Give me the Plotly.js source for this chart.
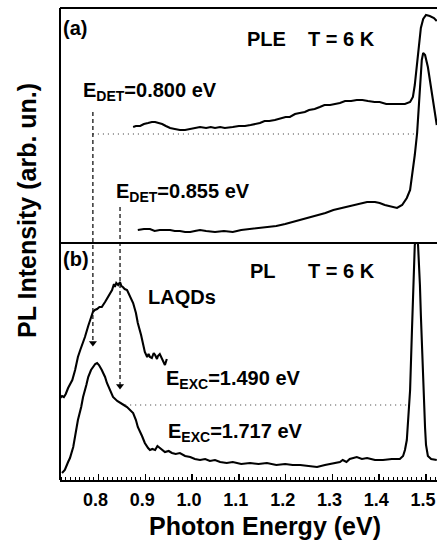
<!DOCTYPE html>
<html>
<head>
<meta charset="utf-8">
<script src="https://cdn.plot.ly/plotly-3.0.1.min.js"></script>
<style>
html,body{margin:0;padding:0;background:#fff;overflow:hidden;}
#chart{width:437px;height:548px;}
</style>
</head>
<body>
<div id="chart"></div>
<script>
// ---------- data (photon energy in eV, intensity in arb. units) ----------
// (a) PLE, detection at 0.800 eV
const pleDet800E = [0.874,0.880,0.889,0.897,0.906,0.914,0.921,0.928,0.936,0.944,0.953,0.963,0.974,0.985,0.996,1.006,1.017,1.030,1.040,1.049,1.060,1.070,1.080,1.087,1.100,1.113,1.125,1.135,1.145,1.155,1.165,1.177,1.190,1.200,1.209,1.220,1.230,1.241,1.250,1.262,1.273,1.283,1.295,1.305,1.316,1.327,1.340,1.352,1.364,1.376,1.390,1.401,1.415,1.429,1.445,1.455,1.466,1.472,1.476,1.481,1.485,1.489,1.494,1.500,1.508,1.517,1.523];
const pleDet800I = [116,117,117,119,120,121,121,120,119,117,115,114,113,113,114,115,116,115,116,115,116,115,116,116,117,117,118,119,120,122,122,123,125,126,126,129,130,131,133,134,136,138,138,139,140,142,142,143,143,142,141,141,139,139,139,139,141,146,158,178,198,215,224,228,227,225,222];
// (a) PLE, detection at 0.855 eV
const pleDet855E = [0.884,0.897,0.910,0.920,0.931,0.942,0.953,0.963,0.974,0.985,0.996,1.006,1.017,1.030,1.049,1.068,1.087,1.105,1.124,1.142,1.160,1.180,1.199,1.215,1.231,1.249,1.267,1.285,1.302,1.320,1.338,1.356,1.374,1.391,1.401,1.412,1.423,1.438,1.449,1.459,1.466,1.470,1.476,1.481,1.485,1.487,1.491,1.494,1.498,1.504,1.508,1.515,1.519,1.523];
const pleDet855I = [13,14,14,12,13,13,13,12,12,11,11,12,13,12,11,12,11,13,14,15,16,17,19,21,23,25,28,30,33,35,37,39,41,41,40,38,37,35,38,45,53,66,88,110,143,160,183,190,188,176,163,143,128,118];
// (b) PL, excitation at 1.490 eV (LAQDs)
const plExc1490E = [0.718,0.722,0.726,0.730,0.735,0.740,0.744,0.750,0.756,0.761,0.765,0.771,0.778,0.782,0.788,0.792,0.797,0.802,0.807,0.814,0.820,0.825,0.829,0.833,0.835,0.838,0.842,0.846,0.849,0.852,0.856,0.861,0.867,0.874,0.880,0.884,0.891,0.895,0.899,0.904,0.907,0.910,0.914,0.918,0.921,0.925,0.927,0.931,0.934,0.938,0.942,0.946];
const plExc1490I = [82,84,83,86,92,96,100,110,123,130,135,143,154,160,168,170,171,173,173,178,183,188,190,196,193,197,195,198,194,193,191,190,184,177,167,157,145,137,128,123,126,123,122,127,125,121,124,126,123,118,115,121];
// (b) PL, excitation at 1.717 eV
const plExc1717E = [0.722,0.728,0.735,0.739,0.746,0.752,0.756,0.763,0.767,0.774,
  0.778,0.784,0.788,0.793,0.797,0.801,0.807,0.814,0.818,0.825,
  0.831,0.840,0.846,0.854,0.861,0.867,0.874,0.880,0.884,0.893,
  0.899,0.906,0.910,0.915,0.921,0.926,0.931,0.936,0.942,0.950,
  0.957,0.965,0.974,0.985,0.996,1.006,1.017,1.028,1.038,1.049,
  1.060,1.074,1.087,1.105,1.124,1.142,1.160,1.180,1.199,1.215,
  1.231,1.249,1.267,1.284,1.301,1.316,1.322,1.330,1.337,1.345,
  1.352,1.363,1.374,1.391,1.408,1.427,1.444,1.451,1.455,1.459,
  1.461,1.466,1.470,1.472,1.474,1.476,1.478,1.481,1.483,1.485,
  1.487,1.489,1.491,1.493,1.496,1.498,1.500,1.504,1.511,1.523];
const plExc1717I = [7,10,18,22,33,48,60,73,83,95,
  103,110,113,116,117,115,110,103,97,90,
  83,79,77,75,73,70,67,60,53,44,
  37,32,30,31,30,34,32,30,28,29,
  27,26,27,24,23,21,20,21,19,20,
  18,17,18,16,17,16,17,15,16,15,
  15,14,13,15,17,18,20,18,21,22,
  23,21,22,20,20,21,21,24,30,40,
  55,90,150,185,215,235,240,240,235,218,
  195,165,135,105,75,52,35,24,21,20];
// reference levels / markers
const detEnergies = [0.788, 0.846];      // dashed arrows (E_DET positions as drawn)
const arrowTipLevels = [137, 94];        // arrow heads in panel (b), intensity units
const pleZeroLevel = 109;                // dotted baseline, panel (a)
const pleZeroRange = [0.788, 1.474];
const plZeroLevel = 75;                  // dotted baseline, panel (b)
const plZeroRange = [0.857, 1.463];
const tickVals = [0.8,0.9,1.0,1.1,1.2,1.3,1.4,1.5];
const tickText = ['0.8','0.9','1.0','1.1','1.2','1.3','1.4','1.5'];

// ---------- layout helpers ----------
const W = 437, H = 548, ML = 60, MR = 0, MT = 8, MB = 68;
const PW = W - ML - MR, PH = H - MT - MB;
const px = v => (v - ML) / PW;            // page x -> paper x
const py = v => (H - MB - v) / PH;        // page y -> paper y
const split = py(243);
const FONT = 'Liberation Sans, Arial, Helvetica, sans-serif';
const f = (s) => ({family: FONT, size: s, color: '#000', weight: 'bold'});

const lineStyle = {color: '#000', width: 2.1};
const traces = [
  {x: pleDet800E, y: pleDet800I, xaxis: 'x', yaxis: 'y2', mode: 'lines', line: lineStyle, name: 'PLE E_DET=0.800 eV'},
  {x: pleDet855E, y: pleDet855I, xaxis: 'x', yaxis: 'y2', mode: 'lines', line: lineStyle, name: 'PLE E_DET=0.855 eV'},
  {x: plExc1490E, y: plExc1490I, xaxis: 'x', yaxis: 'y', mode: 'lines', line: lineStyle, name: 'PL E_EXC=1.490 eV'},
  {x: plExc1717E, y: plExc1717I, xaxis: 'x', yaxis: 'y', mode: 'lines', line: lineStyle, name: 'PL E_EXC=1.717 eV'},
  {x: detEnergies, y: arrowTipLevels, xaxis: 'x', yaxis: 'y', mode: 'markers', name: 'arrow heads',
   marker: {symbol: 'triangle-down', size: 7, color: '#000', line: {width: 0}}}
];

const frame = {color: '#000', width: 2};
const shapes = [
  {type: 'line', xref: 'paper', yref: 'paper', x0: 0, x1: 0, y0: 0, y1: 1, line: frame},
  {type: 'line', xref: 'paper', yref: 'paper', x0: 0, x1: 1, y0: 1, y1: 1, line: frame},
  {type: 'line', xref: 'paper', yref: 'paper', x0: 0, x1: 1, y0: split, y1: split, line: frame},
  {type: 'line', xref: 'x', yref: 'y2', x0: pleZeroRange[0], x1: pleZeroRange[1], y0: pleZeroLevel, y1: pleZeroLevel,
   line: {color: '#333', width: 1.2, dash: '1px,4px'}},
  {type: 'line', xref: 'x', yref: 'y', x0: plZeroRange[0], x1: plZeroRange[1], y0: plZeroLevel, y1: plZeroLevel,
   line: {color: '#333', width: 1.2, dash: '1px,4px'}},
  {type: 'line', xref: 'x', yref: 'paper', x0: detEnergies[0], x1: detEnergies[0], y0: py(112), y1: py(342),
   line: {color: '#000', width: 1.2, dash: '4px,3px'}},
  {type: 'line', xref: 'x', yref: 'paper', x0: detEnergies[1], x1: detEnergies[1], y0: py(207), y1: py(385),
   line: {color: '#000', width: 1.2, dash: '4px,3px'}}
];

const ann = (text, x, y, size, xanchor) => ({
  text: text, xref: 'paper', yref: 'paper', x: px(x), y: py(y),
  xanchor: xanchor || 'left', yanchor: 'middle', showarrow: false, font: f(size)
});
const annotations = [
  ann('(a)', 61, 28, 20),
  ann('PLE', 266, 39, 20, 'center'),
  ann('T = 6 K', 341, 39, 20, 'center'),
  ann('E<sub>DET</sub>=0.800 eV', 81, 92, 20),
  ann('E<sub>DET</sub>=0.855 eV', 114, 193, 20),
  ann('(b)', 61, 259, 20),
  ann('PL', 263, 271, 20, 'center'),
  ann('T = 6 K', 341, 271, 20, 'center'),
  ann('LAQDs', 146, 297, 20),
  ann('E<sub>EXC</sub>=1.490 eV', 164, 379, 20),
  ann('E<sub>EXC</sub>=1.717 eV', 166, 432, 20),
  {text: 'Photon Energy (eV)', xref: 'paper', yref: 'paper', x: px(265), y: py(526),
   xanchor: 'center', yanchor: 'middle', showarrow: false, font: f(25)},
  {text: 'PL Intensity (arb. un.)', xref: 'paper', yref: 'paper', x: px(27), y: py(211),
   xanchor: 'center', yanchor: 'middle', showarrow: false, textangle: -90, font: f(25)}
];

const layout = {
  width: W, height: H,
  margin: {l: ML, r: MR, t: MT, b: MB, pad: 0},
  paper_bgcolor: '#fff', plot_bgcolor: '#fff',
  showlegend: false,
  font: f(20),
  xaxis: {
    range: [0.7177, 1.5235], anchor: 'y', domain: [0, 1],
    tickmode: 'array', tickvals: tickVals, ticktext: tickText,
    ticks: 'inside', ticklen: 6, tickwidth: 1.5, tickcolor: '#000',
    minor: {dtick: 0.01, tick0: 0.8, ticks: 'inside', ticklen: 3, tickwidth: 1, tickcolor: '#000', showgrid: false},
    showline: true, linecolor: '#000', linewidth: 2,
    showgrid: false, zeroline: false,
    tickfont: f(18), ticklabelstandoff: 2, ticklabelshift: -3, ticklabeloverflow: 'allow'
  },
  yaxis: {
    domain: [0, split], range: [0, 237], anchor: 'x',
    showticklabels: false, ticks: '', showgrid: false, zeroline: false, showline: false
  },
  yaxis2: {
    domain: [split, 1], range: [0, 235], anchor: 'x',
    showticklabels: false, ticks: '', showgrid: false, zeroline: false, showline: false
  },
  shapes: shapes,
  annotations: annotations
};

Plotly.newPlot('chart', traces, layout, {displayModeBar: false, staticPlot: true});
</script>
</body>
</html>
